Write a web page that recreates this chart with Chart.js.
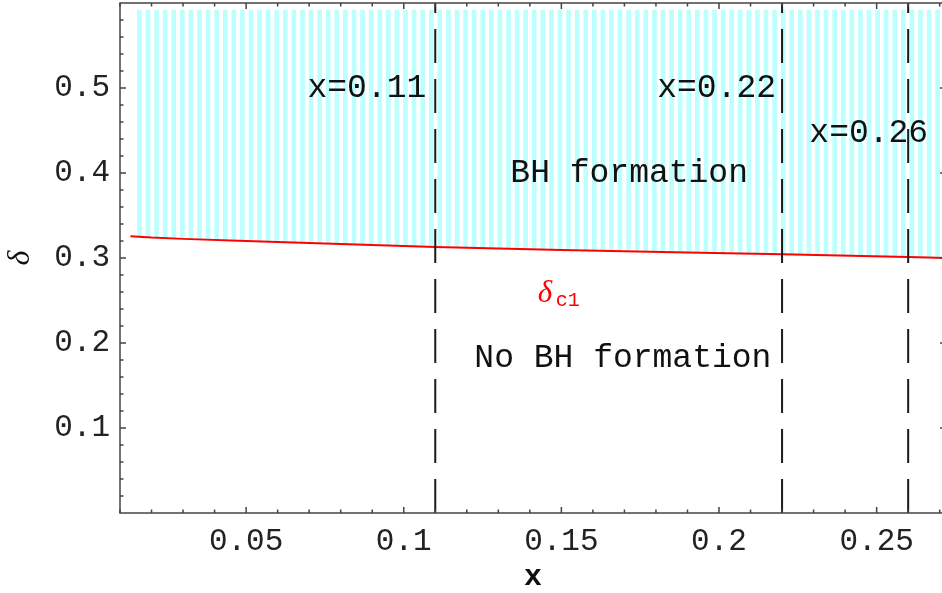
<!DOCTYPE html>
<html>
<head>
<meta charset="utf-8">
<script src="https://cdn.jsdelivr.net/npm/chart.js@4.4.1/dist/chart.umd.min.js"></script>
<style>
  html, body { margin: 0; padding: 0; background: #fff; overflow: hidden; }
  canvas { display: block; }
</style>
</head>
<body>
<canvas id="plot" width="946" height="593"></canvas>
<script>
// Критическая кривая delta_c1(x)
const curveX = [0.0133, 0.02, 0.03, 0.05, 0.08, 0.11, 0.15, 0.19, 0.22, 0.26, 0.272];
const curveDelta = [0.3257, 0.3240, 0.3225, 0.3200, 0.3165, 0.3130, 0.3095, 0.3065, 0.3045, 0.3012, 0.2999];

// Область образования ЧД (штриховка над кривой)
const hatchX = [0.015, 0.272];
const hatchTop = 0.592;

// Вертикальные сечения x = const
const cutLines = [0.11, 0.22, 0.26];
const cutLabelY = [0.5, 0.5, 0.447];
const cutLabelDx = [-9, -6, 20];

// Подписи областей
const regionLabels = ['BH formation', 'No BH formation'];
const regionX = [0.1715, 0.1695];
const regionY = [0.400, 0.182];
const curveLabelPos = { x: 0.1425, y: 0.248 };

// Оси
const xRange = [0.01, 0.272];
const yRange = [0, 0.6];
const xTicks = [0.05, 0.1, 0.15, 0.2, 0.25];
const yTicks = [0.1, 0.2, 0.3, 0.4, 0.5];
const xMinorStep = 0.01;
const yMinorStep = 0.02;

const FRAME = '#444';

// Узор из вертикальных голубых полос
function makeStripes() {
    const c = document.createElement('canvas');
    c.width = 103;
    c.height = 4;
    const g = c.getContext('2d');
    g.fillStyle = '#bcffff';
    const pitch = 103 / 12;
    for (let k = -5; k < 13; k++) {
        g.fillRect(34.1 + k * pitch, 0, 4.6, 4);
    }
    return g.createPattern(c, 'repeat');
}

// Рамка с засечками внутрь, как в Mathematica
const framePlugin = {
    id: 'frame',
    afterDraw(chart) {
        const { ctx, chartArea: a, scales: { x, y } } = chart;
        ctx.save();
        ctx.strokeStyle = FRAME;
        ctx.lineWidth = 1.5;
        ctx.strokeRect(a.left, a.top, a.right - a.left, a.bottom - a.top);
        ctx.beginPath();
        for (let i = 1; i * xMinorStep <= x.max + 1e-9; i++) {
            const v = i * xMinorStep;
            if (v < x.min - 1e-9) continue;
            const px = x.getPixelForValue(v);
            const len = Math.round(v * 100) % 5 === 0 ? 6 : 3.5;
            ctx.moveTo(px, a.bottom); ctx.lineTo(px, a.bottom - len);
            ctx.moveTo(px, a.top); ctx.lineTo(px, a.top + len);
        }
        for (let i = 1; i * yMinorStep < y.max - 1e-9; i++) {
            const v = i * yMinorStep;
            const py = y.getPixelForValue(v);
            const len = Math.round(v * 100) % 10 === 0 ? 6 : 3.5;
            ctx.moveTo(a.left, py); ctx.lineTo(a.left + len, py);
            ctx.moveTo(a.right, py); ctx.lineTo(a.right - len, py);
        }
        ctx.stroke();
        ctx.restore();
    }
};

// Текстовые подписи поверх штриховки, под линиями
const labelsPlugin = {
    id: 'labels',
    afterDatasetDraw(chart, args) {
        if (args.index !== 1) return;
        const { ctx, scales: { x, y } } = chart;
        ctx.save();
        ctx.fillStyle = '#111';
        ctx.font = '33px "Liberation Mono"';
        ctx.textBaseline = 'middle';
        ctx.textAlign = 'center';
        regionLabels.forEach((t, i) => {
            ctx.fillText(t, x.getPixelForValue(regionX[i]), y.getPixelForValue(regionY[i]));
        });
        ctx.textAlign = 'right';
        cutLines.forEach((v, i) => {
            ctx.fillText('x=' + v, x.getPixelForValue(v) + cutLabelDx[i], y.getPixelForValue(cutLabelY[i]));
        });
        // delta_c1
        const px = x.getPixelForValue(curveLabelPos.x);
        const py = y.getPixelForValue(curveLabelPos.y);
        ctx.fillStyle = '#ff0000';
        ctx.textAlign = 'left';
        ctx.textBaseline = 'alphabetic';
        ctx.font = 'italic 31px "Liberation Serif"';
        ctx.fillText('δ', px, py);
        ctx.font = '20px "Liberation Mono"';
        ctx.fillText('c1', px + 18, py + 4);
        ctx.restore();
    }
};

// Убираем запас под крайние подписи делений, чтобы рамка встала точно
function noEdgePadding(s) {
    s.paddingLeft = 0;
    s.paddingRight = 0;
    s.paddingTop = 0;
    s.paddingBottom = 0;
}

const stripes = makeStripes();

const datasets = [
    {
        label: 'delta_c1',
        data: curveX.map((v, i) => ({ x: v, y: curveDelta[i] })),
        borderColor: '#ff0000',
        borderWidth: 2,
        pointRadius: 0,
        fill: false,
        order: 1
    },
    {
        label: 'BH',
        data: hatchX.map(v => ({ x: v, y: hatchTop })),
        borderWidth: 0,
        pointRadius: 0,
        backgroundColor: stripes,
        fill: { target: 0 },
        order: 2
    }
];

cutLines.forEach(v => {
    datasets.push({
        label: 'x=' + v,
        data: [{ x: v, y: yRange[0] }, { x: v, y: yRange[1] }],
        borderColor: '#1a1a1a',
        borderWidth: 2,
        borderDash: [34, 16],
        pointRadius: 0,
        fill: false,
        order: 0
    });
});

new Chart(document.getElementById('plot').getContext('2d'), {
    type: 'line',
    data: { datasets },
    options: {
        responsive: false,
        animation: false,
        layout: { padding: { top: 3, left: 0, right: 0, bottom: 0 } },
        plugins: {
            legend: { display: false },
            tooltip: { enabled: false }
        },
        scales: {
            x: {
                type: 'linear',
                min: xRange[0],
                max: xRange[1],
                grid: { display: false, drawTicks: false },
                border: { display: false },
                afterBuildTicks: s => { s.ticks = xTicks.map(v => ({ value: v })); },
                afterFit: s => { s.height = 80; noEdgePadding(s); },
                ticks: {
                    autoSkip: false,
                    maxRotation: 0,
                    padding: 10,
                    color: '#222',
                    font: { family: 'Liberation Mono', size: 31 },
                    callback: v => String(v)
                },
                title: {
                    display: true,
                    text: 'x',
                    color: '#111',
                    font: { family: 'Liberation Mono', size: 30, weight: 'bold' },
                    padding: { top: 0, bottom: -2 }
                }
            },
            y: {
                type: 'linear',
                min: yRange[0],
                max: yRange[1],
                grid: { display: false, drawTicks: false },
                border: { display: false },
                afterBuildTicks: s => { s.ticks = yTicks.map(v => ({ value: v })); },
                afterFit: s => { s.width = 120; noEdgePadding(s); },
                ticks: {
                    autoSkip: false,
                    padding: 10,
                    color: '#222',
                    font: { family: 'Liberation Mono', size: 31 },
                    callback: v => String(v)
                },
                title: {
                    display: true,
                    text: 'δ',
                    color: '#111',
                    font: { family: 'Liberation Serif', size: 32, style: 'italic' },
                    padding: { top: 1, bottom: 0 }
                }
            }
        }
    },
    plugins: [framePlugin, labelsPlugin]
});
</script>
</body>
</html>
